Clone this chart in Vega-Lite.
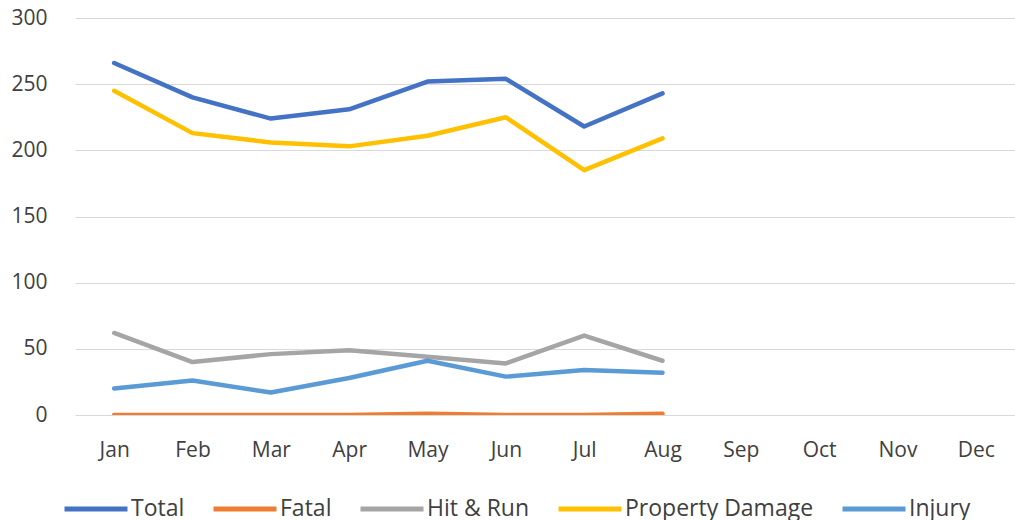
{
  "$schema": "https://vega.github.io/schema/vega-lite/v6.json",
  "autosize": "none",
  "width": 940,
  "height": 397,
  "padding": {"left": 75, "top": 18, "right": 0, "bottom": 105},
  "background": "white",
  "config": {
    "view": {"stroke": null},
    "font": "Open Sans"
  },
  "data": {
    "values": [
      {"month": "Jan", "series": "Total", "value": 266},
      {"month": "Feb", "series": "Total", "value": 240},
      {"month": "Mar", "series": "Total", "value": 224},
      {"month": "Apr", "series": "Total", "value": 231},
      {"month": "May", "series": "Total", "value": 252},
      {"month": "Jun", "series": "Total", "value": 254},
      {"month": "Jul", "series": "Total", "value": 218},
      {"month": "Aug", "series": "Total", "value": 243},
      {"month": "Jan", "series": "Fatal", "value": 0},
      {"month": "Feb", "series": "Fatal", "value": 0},
      {"month": "Mar", "series": "Fatal", "value": 0},
      {"month": "Apr", "series": "Fatal", "value": 0},
      {"month": "May", "series": "Fatal", "value": 1},
      {"month": "Jun", "series": "Fatal", "value": 0},
      {"month": "Jul", "series": "Fatal", "value": 0},
      {"month": "Aug", "series": "Fatal", "value": 1},
      {"month": "Jan", "series": "Hit & Run", "value": 62},
      {"month": "Feb", "series": "Hit & Run", "value": 40},
      {"month": "Mar", "series": "Hit & Run", "value": 46},
      {"month": "Apr", "series": "Hit & Run", "value": 49},
      {"month": "May", "series": "Hit & Run", "value": 44},
      {"month": "Jun", "series": "Hit & Run", "value": 39},
      {"month": "Jul", "series": "Hit & Run", "value": 60},
      {"month": "Aug", "series": "Hit & Run", "value": 41},
      {"month": "Jan", "series": "Property Damage", "value": 245},
      {"month": "Feb", "series": "Property Damage", "value": 213},
      {"month": "Mar", "series": "Property Damage", "value": 206},
      {"month": "Apr", "series": "Property Damage", "value": 203},
      {"month": "May", "series": "Property Damage", "value": 211},
      {"month": "Jun", "series": "Property Damage", "value": 225},
      {"month": "Jul", "series": "Property Damage", "value": 185},
      {"month": "Aug", "series": "Property Damage", "value": 209},
      {"month": "Jan", "series": "Injury", "value": 20},
      {"month": "Feb", "series": "Injury", "value": 26},
      {"month": "Mar", "series": "Injury", "value": 17},
      {"month": "Apr", "series": "Injury", "value": 28},
      {"month": "May", "series": "Injury", "value": 41},
      {"month": "Jun", "series": "Injury", "value": 29},
      {"month": "Jul", "series": "Injury", "value": 34},
      {"month": "Aug", "series": "Injury", "value": 32}
    ]
  },
  "mark": {"type": "line", "strokeWidth": 4.5, "clip": true, "strokeCap": "round", "strokeJoin": "round"},
  "encoding": {
    "x": {
      "field": "month",
      "type": "ordinal",
      "sort": ["Jan","Feb","Mar","Apr","May","Jun","Jul","Aug","Sep","Oct","Nov","Dec"],
      "scale": {"type": "point", "domain": ["Jan","Feb","Mar","Apr","May","Jun","Jul","Aug","Sep","Oct","Nov","Dec"], "padding": 0.5},
      "axis": {
        "title": null,
        "labelAngle": 0,
        "domain": false,
        "ticks": false,
        "grid": false,
        "labelFontSize": 21,
        "labelColor": "#404040",
        "labelPadding": 24
      }
    },
    "y": {
      "field": "value",
      "type": "quantitative",
      "scale": {"domain": [0, 300], "nice": false},
      "axis": {
        "title": null,
        "values": [0, 50, 100, 150, 200, 250, 300],
        "domain": false,
        "ticks": false,
        "gridColor": "#D9D9D9",
        "gridWidth": 1,
        "labelFontSize": 21,
        "labelColor": "#404040",
        "labelPadding": 28
      }
    },
    "color": {
      "field": "series",
      "type": "nominal",
      "scale": {
        "domain": ["Total", "Fatal", "Hit & Run", "Property Damage", "Injury"],
        "range": ["#4472C4", "#ED7D31", "#A5A5A5", "#FFC000", "#5B9BD5"]
      },
      "legend": {
        "title": null,
        "orient": "none",
        "direction": "horizontal",
        "legendX": -13,
        "legendY": 457,
        "symbolType": "stroke",
        "symbolSize": 3969,
        "symbolStrokeWidth": 5,
        "labelFontSize": 23,
        "labelColor": "#404040",
        "labelOffset": 1,
        "columnPadding": 18,
        "labelLimit": 300
      }
    }
  }
}
